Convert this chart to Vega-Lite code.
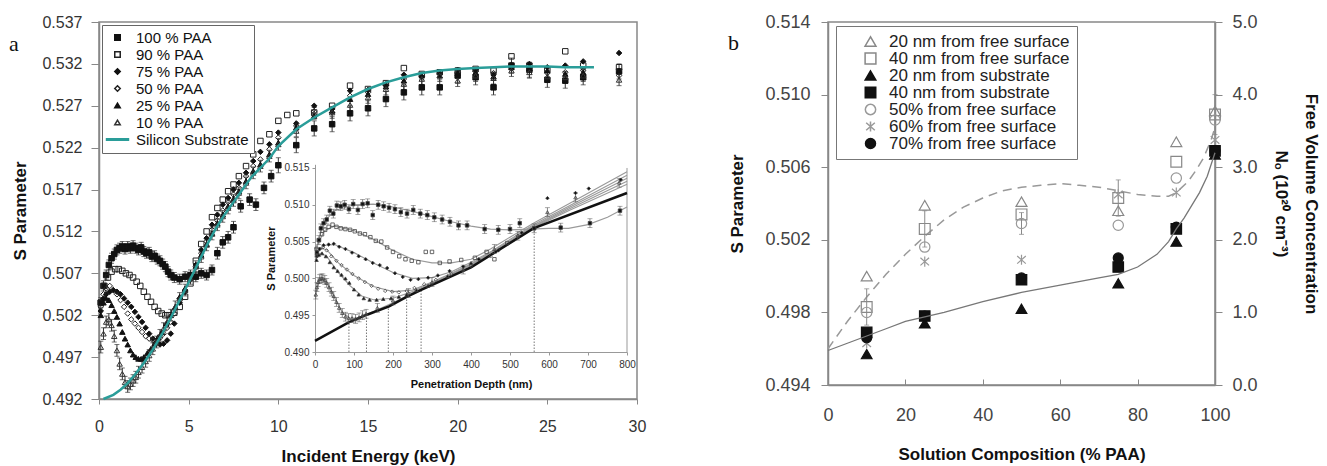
{
"$schema":"https://vega.github.io/schema/vega-lite/v6.json",
"padding":{"left":8,"top":12,"right":0,"bottom":0},
"spacing":80,
"resolve":{"scale":{"shape":"independent","fill":"independent","stroke":"independent","size":"independent"},"legend":{"shape":"independent","fill":"independent","stroke":"independent","size":"independent"}},
"config":{"view":{"stroke":"#888","strokeWidth":1.5},"font":"Liberation Sans",
"axis":{"grid":false,"domainColor":"#888","domainWidth":1.5,"tickColor":"#888","labelColor":"#333","labelFont":"Liberation Sans","titleFont":"Liberation Sans","titleFontWeight":"bold","titleColor":"#111","labelFlush":false,"labelOverlap":false},
"legend":{"labelFont":"Liberation Sans"}},
"datasets":{
"main":[
{"series":"100","E":0.1,"S":0.5035,"err":0.0006},{"series":"100","E":0.25,"S":0.5055,"err":0.0006},{"series":"100","E":0.4,"S":0.5068,"err":0.0006},{"series":"100","E":0.55,"S":0.508,"err":0.0006},{"series":"100","E":0.7,"S":0.5088,"err":0.0006},{"series":"100","E":0.85,"S":0.5093,"err":0.0006},{"series":"100","E":1.0,"S":0.5098,"err":0.0006},{"series":"100","E":1.15,"S":0.51,"err":0.0006},{"series":"100","E":1.3,"S":0.5102,"err":0.0006},{"series":"100","E":1.45,"S":0.5099,"err":0.0006},{"series":"100","E":1.6,"S":0.5102,"err":0.0006},{"series":"100","E":1.75,"S":0.51,"err":0.0006},{"series":"100","E":1.9,"S":0.5103,"err":0.0006},{"series":"100","E":2.05,"S":0.51,"err":0.0006},{"series":"100","E":2.2,"S":0.5098,"err":0.0006},{"series":"100","E":2.35,"S":0.5101,"err":0.0006},{"series":"100","E":2.5,"S":0.5096,"err":0.0006},{"series":"100","E":2.65,"S":0.5094,"err":0.0006},{"series":"100","E":2.8,"S":0.5095,"err":0.0006},{"series":"100","E":2.95,"S":0.509,"err":0.0006},{"series":"100","E":3.1,"S":0.5091,"err":0.0006},{"series":"100","E":3.25,"S":0.5087,"err":0.0006},{"series":"100","E":3.4,"S":0.5085,"err":0.0006},{"series":"100","E":3.55,"S":0.5081,"err":0.0006},{"series":"100","E":3.7,"S":0.5078,"err":0.0006},{"series":"100","E":3.85,"S":0.5072,"err":0.0006},{"series":"100","E":4.0,"S":0.5068,"err":0.0006},{"series":"100","E":4.2,"S":0.5065,"err":0.0006},{"series":"100","E":4.5,"S":0.5063,"err":0.0006},{"series":"100","E":4.8,"S":0.5066,"err":0.0006},{"series":"100","E":5.1,"S":0.5068,"err":0.0006},{"series":"100","E":5.4,"S":0.5066,"err":0.0006},{"series":"100","E":5.7,"S":0.507,"err":0.0006},{"series":"100","E":6.0,"S":0.5068,"err":0.0006},{"series":"100","E":6.3,"S":0.5074,"err":0.0006},{"series":"100","E":6.6,"S":0.5094,"err":0.0007},{"series":"100","E":6.9,"S":0.5107,"err":0.0007},{"series":"100","E":7.2,"S":0.5113,"err":0.0007},{"series":"100","E":7.5,"S":0.5125,"err":0.0007},{"series":"100","E":7.9,"S":0.515,"err":0.0007},{"series":"100","E":8.4,"S":0.5158,"err":0.0007},{"series":"100","E":8.75,"S":0.5152,"err":0.0007},{"series":"100","E":9.2,"S":0.5172,"err":0.0007},{"series":"100","E":9.6,"S":0.5186,"err":0.0007},{"series":"100","E":10,"S":0.5199,"err":0.0009},{"series":"100","E":11,"S":0.5223,"err":0.0009},{"series":"100","E":12,"S":0.5243,"err":0.0009},{"series":"100","E":13,"S":0.5248,"err":0.0009},{"series":"100","E":14,"S":0.5261,"err":0.0009},{"series":"100","E":15,"S":0.5267,"err":0.0009},{"series":"100","E":16,"S":0.5278,"err":0.0009},{"series":"100","E":17,"S":0.5286,"err":0.0009},{"series":"100","E":18,"S":0.5292,"err":0.0009},{"series":"100","E":19,"S":0.5292,"err":0.0009},{"series":"100","E":20,"S":0.5306,"err":0.0009},{"series":"100","E":21,"S":0.5304,"err":0.0009},{"series":"100","E":22,"S":0.5292,"err":0.0009},{"series":"100","E":23,"S":0.5318,"err":0.0009},{"series":"100","E":24,"S":0.5313,"err":0.0009},{"series":"100","E":25,"S":0.5301,"err":0.0009},{"series":"100","E":26,"S":0.53,"err":0.0009},{"series":"100","E":27,"S":0.5304,"err":0.0009},{"series":"100","E":29,"S":0.5311,"err":0.0009},
{"series":"90","E":0.1,"S":0.5035},{"series":"90","E":0.3,"S":0.5055},{"series":"90","E":0.5,"S":0.5065},{"series":"90","E":0.7,"S":0.5072},{"series":"90","E":0.9,"S":0.5075},{"series":"90","E":1.1,"S":0.5075},{"series":"90","E":1.3,"S":0.5073},{"series":"90","E":1.5,"S":0.507},{"series":"90","E":1.7,"S":0.5068},{"series":"90","E":1.9,"S":0.5065},{"series":"90","E":2.1,"S":0.506},{"series":"90","E":2.3,"S":0.5055},{"series":"90","E":2.5,"S":0.5048},{"series":"90","E":2.7,"S":0.5042},{"series":"90","E":2.9,"S":0.5036},{"series":"90","E":3.1,"S":0.503},{"series":"90","E":3.3,"S":0.5025},{"series":"90","E":3.5,"S":0.5022},{"series":"90","E":3.7,"S":0.502},{"series":"90","E":3.9,"S":0.502},{"series":"90","E":4.2,"S":0.5023},{"series":"90","E":4.5,"S":0.503},{"series":"90","E":4.8,"S":0.5042},{"series":"90","E":5.1,"S":0.5058},{"series":"90","E":5.4,"S":0.5085},{"series":"90","E":5.7,"S":0.5105},{"series":"90","E":6.0,"S":0.512},{"series":"90","E":6.3,"S":0.5137},{"series":"90","E":6.6,"S":0.5148},{"series":"90","E":6.9,"S":0.5158},{"series":"90","E":7.2,"S":0.5168},{"series":"90","E":7.5,"S":0.5176},{"series":"90","E":7.8,"S":0.5186},{"series":"90","E":8.2,"S":0.5198},{"series":"90","E":8.6,"S":0.5212},{"series":"90","E":9.0,"S":0.5228},{"series":"90","E":9.5,"S":0.5236},{"series":"90","E":10,"S":0.5252},{"series":"90","E":10.5,"S":0.5259},{"series":"90","E":11,"S":0.5261},{"series":"90","E":12,"S":0.5262},{"series":"90","E":13,"S":0.527},{"series":"90","E":14,"S":0.5294},{"series":"90","E":15,"S":0.529},{"series":"90","E":16,"S":0.5297},{"series":"90","E":17,"S":0.5315},{"series":"90","E":18,"S":0.5308},{"series":"90","E":19,"S":0.531},{"series":"90","E":20,"S":0.5312},{"series":"90","E":21,"S":0.5314},{"series":"90","E":22,"S":0.5312},{"series":"90","E":23,"S":0.5329},{"series":"90","E":24,"S":0.5318},{"series":"90","E":25,"S":0.5313},{"series":"90","E":26,"S":0.5335},{"series":"90","E":27,"S":0.5318},{"series":"90","E":29,"S":0.5316},
{"series":"75","E":0.1,"S":0.5025},{"series":"75","E":0.25,"S":0.504},{"series":"75","E":0.4,"S":0.5045},{"series":"75","E":0.6,"S":0.5048},{"series":"75","E":0.8,"S":0.505},{"series":"75","E":1.0,"S":0.5048},{"series":"75","E":1.2,"S":0.5045},{"series":"75","E":1.4,"S":0.504},{"series":"75","E":1.6,"S":0.5035},{"series":"75","E":1.8,"S":0.503},{"series":"75","E":2.0,"S":0.5024},{"series":"75","E":2.2,"S":0.5018},{"series":"75","E":2.4,"S":0.5012},{"series":"75","E":2.6,"S":0.5005},{"series":"75","E":2.8,"S":0.4998},{"series":"75","E":3.0,"S":0.4992},{"series":"75","E":3.2,"S":0.4988},{"series":"75","E":3.4,"S":0.4985},{"series":"75","E":3.6,"S":0.4986},{"series":"75","E":3.8,"S":0.499},{"series":"75","E":4.0,"S":0.4998},{"series":"75","E":4.2,"S":0.501},{"series":"75","E":4.5,"S":0.5035},{"series":"75","E":4.8,"S":0.5048},{"series":"75","E":5.1,"S":0.5065},{"series":"75","E":5.4,"S":0.508},{"series":"75","E":5.7,"S":0.5098},{"series":"75","E":6.0,"S":0.5112},{"series":"75","E":6.3,"S":0.5128},{"series":"75","E":6.6,"S":0.514},{"series":"75","E":6.9,"S":0.5152},{"series":"75","E":7.2,"S":0.516},{"series":"75","E":7.5,"S":0.517},{"series":"75","E":7.8,"S":0.5178},{"series":"75","E":8.2,"S":0.519},{"series":"75","E":8.6,"S":0.5204},{"series":"75","E":9.0,"S":0.5215},{"series":"75","E":9.5,"S":0.5224},{"series":"75","E":10,"S":0.5238},{"series":"75","E":11,"S":0.5249},{"series":"75","E":12,"S":0.527},{"series":"75","E":13,"S":0.5266},{"series":"75","E":14,"S":0.5288},{"series":"75","E":15,"S":0.5289},{"series":"75","E":16,"S":0.5294},{"series":"75","E":17,"S":0.5307},{"series":"75","E":18,"S":0.5305},{"series":"75","E":19,"S":0.5309},{"series":"75","E":20,"S":0.5313},{"series":"75","E":21,"S":0.5313},{"series":"75","E":22,"S":0.5307},{"series":"75","E":23,"S":0.5319},{"series":"75","E":24,"S":0.532},{"series":"75","E":25,"S":0.5316},{"series":"75","E":26,"S":0.5318},{"series":"75","E":27,"S":0.5323},{"series":"75","E":29,"S":0.5333},
{"series":"50","E":0.1,"S":0.503},{"series":"50","E":0.25,"S":0.5045},{"series":"50","E":0.4,"S":0.5052},{"series":"50","E":0.6,"S":0.5055},{"series":"50","E":0.8,"S":0.505},{"series":"50","E":1.0,"S":0.5045},{"series":"50","E":1.2,"S":0.5038},{"series":"50","E":1.4,"S":0.503},{"series":"50","E":1.6,"S":0.5022},{"series":"50","E":1.8,"S":0.5015},{"series":"50","E":2.0,"S":0.501},{"series":"50","E":2.2,"S":0.5005},{"series":"50","E":2.4,"S":0.5},{"series":"50","E":2.6,"S":0.4995},{"series":"50","E":2.8,"S":0.4992},{"series":"50","E":3.0,"S":0.499},{"series":"50","E":3.2,"S":0.499},{"series":"50","E":3.4,"S":0.4993},{"series":"50","E":3.6,"S":0.4998},{"series":"50","E":3.8,"S":0.5005},{"series":"50","E":4.0,"S":0.5012},{"series":"50","E":4.2,"S":0.5022},{"series":"50","E":4.5,"S":0.504},{"series":"50","E":4.8,"S":0.505},{"series":"50","E":5.1,"S":0.5062},{"series":"50","E":5.4,"S":0.5078},{"series":"50","E":5.7,"S":0.5094},{"series":"50","E":6.0,"S":0.5108},{"series":"50","E":6.3,"S":0.5122},{"series":"50","E":6.6,"S":0.5133},{"series":"50","E":6.9,"S":0.5145},{"series":"50","E":7.2,"S":0.5155},{"series":"50","E":7.5,"S":0.5164},{"series":"50","E":7.8,"S":0.5172},{"series":"50","E":8.2,"S":0.5186},{"series":"50","E":8.6,"S":0.5198},{"series":"50","E":9.0,"S":0.5206},{"series":"50","E":9.5,"S":0.5218},{"series":"50","E":10,"S":0.5232},{"series":"50","E":11,"S":0.5246},{"series":"50","E":12,"S":0.5263},{"series":"50","E":13,"S":0.5262},{"series":"50","E":14,"S":0.5282},{"series":"50","E":15,"S":0.5286},{"series":"50","E":16,"S":0.5296},{"series":"50","E":17,"S":0.5302},{"series":"50","E":18,"S":0.5305},{"series":"50","E":19,"S":0.5308},{"series":"50","E":20,"S":0.531},{"series":"50","E":21,"S":0.5311},{"series":"50","E":22,"S":0.5309},{"series":"50","E":23,"S":0.5314},{"series":"50","E":24,"S":0.5312},{"series":"50","E":25,"S":0.5309},{"series":"50","E":26,"S":0.531},{"series":"50","E":27,"S":0.5312},{"series":"50","E":29,"S":0.5306},
{"series":"25","E":0.1,"S":0.502},{"series":"25","E":0.25,"S":0.5035},{"series":"25","E":0.4,"S":0.504},{"series":"25","E":0.55,"S":0.5038},{"series":"25","E":0.7,"S":0.5032},{"series":"25","E":0.85,"S":0.5025},{"series":"25","E":1.0,"S":0.5018},{"series":"25","E":1.15,"S":0.501},{"series":"25","E":1.3,"S":0.5},{"series":"25","E":1.45,"S":0.4992},{"series":"25","E":1.6,"S":0.4985},{"series":"25","E":1.75,"S":0.4978},{"series":"25","E":1.9,"S":0.4973},{"series":"25","E":2.05,"S":0.497},{"series":"25","E":2.2,"S":0.4968},{"series":"25","E":2.35,"S":0.4968},{"series":"25","E":2.5,"S":0.497},{"series":"25","E":2.7,"S":0.4975},{"series":"25","E":2.9,"S":0.498},{"series":"25","E":3.1,"S":0.4986},{"series":"25","E":3.3,"S":0.4994},{"series":"25","E":3.5,"S":0.5},{"series":"25","E":3.75,"S":0.501},{"series":"25","E":4.0,"S":0.502},{"series":"25","E":4.25,"S":0.503},{"series":"25","E":4.5,"S":0.5042},{"series":"25","E":4.8,"S":0.5052},{"series":"25","E":5.1,"S":0.5066},{"series":"25","E":5.4,"S":0.5079},{"series":"25","E":5.7,"S":0.5092},{"series":"25","E":6.0,"S":0.5105},{"series":"25","E":6.3,"S":0.5118},{"series":"25","E":6.6,"S":0.513},{"series":"25","E":6.9,"S":0.514},{"series":"25","E":7.2,"S":0.515},{"series":"25","E":7.5,"S":0.5159},{"series":"25","E":7.8,"S":0.5168},{"series":"25","E":8.2,"S":0.518},{"series":"25","E":8.6,"S":0.5192},{"series":"25","E":9.0,"S":0.52},{"series":"25","E":9.5,"S":0.5212},{"series":"25","E":10,"S":0.5226},{"series":"25","E":11,"S":0.5244},{"series":"25","E":12,"S":0.5258},{"series":"25","E":13,"S":0.5264},{"series":"25","E":14,"S":0.5278},{"series":"25","E":15,"S":0.5284},{"series":"25","E":16,"S":0.5293},{"series":"25","E":17,"S":0.53},{"series":"25","E":18,"S":0.5306},{"series":"25","E":19,"S":0.5306},{"series":"25","E":20,"S":0.5309},{"series":"25","E":21,"S":0.531},{"series":"25","E":22,"S":0.5305},{"series":"25","E":23,"S":0.5316},{"series":"25","E":24,"S":0.5315},{"series":"25","E":25,"S":0.5312},{"series":"25","E":26,"S":0.5308},{"series":"25","E":27,"S":0.531},{"series":"25","E":29,"S":0.5312},
{"series":"10","E":0.1,"S":0.4982,"err":0.0007},{"series":"10","E":0.25,"S":0.4998,"err":0.0007},{"series":"10","E":0.4,"S":0.5012,"err":0.0007},{"series":"10","E":0.55,"S":0.5015,"err":0.0007},{"series":"10","E":0.7,"S":0.5008,"err":0.0007},{"series":"10","E":0.85,"S":0.4995,"err":0.0007},{"series":"10","E":1.0,"S":0.4978,"err":0.0007},{"series":"10","E":1.15,"S":0.4962,"err":0.0007},{"series":"10","E":1.3,"S":0.495,"err":0.0007},{"series":"10","E":1.45,"S":0.494,"err":0.0007},{"series":"10","E":1.6,"S":0.4935,"err":0.0007},{"series":"10","E":1.75,"S":0.4938,"err":0.0007},{"series":"10","E":1.9,"S":0.4942,"err":0.0007},{"series":"10","E":2.05,"S":0.4946,"err":0.0007},{"series":"10","E":2.2,"S":0.4952,"err":0.0007},{"series":"10","E":2.4,"S":0.4958,"err":0.0007},{"series":"10","E":2.6,"S":0.4965,"err":0.0007},{"series":"10","E":2.8,"S":0.4972,"err":0.0007},{"series":"10","E":3.0,"S":0.498,"err":0.0007},{"series":"10","E":3.2,"S":0.4988,"err":0.0007},{"series":"10","E":3.4,"S":0.4996,"err":0.0007},{"series":"10","E":3.6,"S":0.5004,"err":0.0007},{"series":"10","E":3.8,"S":0.5012,"err":0.0007},{"series":"10","E":4.0,"S":0.502,"err":0.0007},{"series":"10","E":4.25,"S":0.503,"err":0.0007},{"series":"10","E":4.5,"S":0.504,"err":0.0007},{"series":"10","E":4.8,"S":0.505,"err":0.0007},{"series":"10","E":5.1,"S":0.5064,"err":0.0007},{"series":"10","E":5.4,"S":0.5078,"err":0.0007},{"series":"10","E":5.7,"S":0.509,"err":0.0007},{"series":"10","E":6.0,"S":0.5104,"err":0.0007},{"series":"10","E":6.3,"S":0.5117,"err":0.0007},{"series":"10","E":6.6,"S":0.5128,"err":0.0007},{"series":"10","E":6.9,"S":0.5138,"err":0.0007},{"series":"10","E":7.2,"S":0.5148,"err":0.0007},{"series":"10","E":7.5,"S":0.5157,"err":0.0007},{"series":"10","E":7.8,"S":0.5166,"err":0.0007},{"series":"10","E":8.2,"S":0.5178,"err":0.0007},{"series":"10","E":8.6,"S":0.519,"err":0.0007},{"series":"10","E":9.0,"S":0.5198,"err":0.0007},{"series":"10","E":9.5,"S":0.521,"err":0.0007},{"series":"10","E":10,"S":0.5224,"err":0.0007},{"series":"10","E":11,"S":0.524,"err":0.0007},{"series":"10","E":12,"S":0.5261,"err":0.0007},{"series":"10","E":13,"S":0.5262,"err":0.0007},{"series":"10","E":14,"S":0.5271,"err":0.0007},{"series":"10","E":15,"S":0.528,"err":0.0007},{"series":"10","E":16,"S":0.529,"err":0.0007},{"series":"10","E":17,"S":0.5296,"err":0.0007},{"series":"10","E":18,"S":0.5302,"err":0.0007},{"series":"10","E":19,"S":0.5306,"err":0.0007},{"series":"10","E":20,"S":0.53,"err":0.0007},{"series":"10","E":21,"S":0.5306,"err":0.0007},{"series":"10","E":22,"S":0.5303,"err":0.0007},{"series":"10","E":23,"S":0.5312,"err":0.0007},{"series":"10","E":24,"S":0.531,"err":0.0007},{"series":"10","E":25,"S":0.5305,"err":0.0007},{"series":"10","E":26,"S":0.5304,"err":0.0007},{"series":"10","E":27,"S":0.5306,"err":0.0007},{"series":"10","E":29,"S":0.5301,"err":0.0007}
],
"sub":[
{"series":"Si","E":0.25,"S":0.492},{"series":"Si","E":0.8,"S":0.4925},{"series":"Si","E":1.2,"S":0.4931},{"series":"Si","E":1.6,"S":0.4939},{"series":"Si","E":2.0,"S":0.4949},{"series":"Si","E":2.5,"S":0.4963},{"series":"Si","E":3.0,"S":0.4979},{"series":"Si","E":3.5,"S":0.4997},{"series":"Si","E":4.0,"S":0.5017},{"series":"Si","E":4.5,"S":0.5038},{"series":"Si","E":5.0,"S":0.5059},{"series":"Si","E":5.5,"S":0.5081},{"series":"Si","E":6.0,"S":0.5103},{"series":"Si","E":6.5,"S":0.5123},{"series":"Si","E":7.0,"S":0.514},{"series":"Si","E":7.5,"S":0.5155},{"series":"Si","E":8.0,"S":0.517},{"series":"Si","E":8.5,"S":0.5185},{"series":"Si","E":9.0,"S":0.5196},{"series":"Si","E":9.5,"S":0.5207},{"series":"Si","E":10,"S":0.5222},{"series":"Si","E":11,"S":0.5242},{"series":"Si","E":12,"S":0.5256},{"series":"Si","E":13,"S":0.5268},{"series":"Si","E":14,"S":0.528},{"series":"Si","E":15,"S":0.529},{"series":"Si","E":16,"S":0.5298},{"series":"Si","E":17,"S":0.5304},{"series":"Si","E":18,"S":0.5309},{"series":"Si","E":19,"S":0.5312},{"series":"Si","E":20,"S":0.5314},{"series":"Si","E":21,"S":0.5315},{"series":"Si","E":22,"S":0.5316},{"series":"Si","E":23,"S":0.5317},{"series":"Si","E":24,"S":0.5317},{"series":"Si","E":25,"S":0.5317},{"series":"Si","E":26,"S":0.5316},{"series":"Si","E":27.6,"S":0.5316}
],
"inset":[
{"series":"100","d":5,"S":0.5035,"err":0.0006},{"series":"100","d":10,"S":0.5052,"err":0.0006},{"series":"100","d":15,"S":0.5068,"err":0.0006},{"series":"100","d":22,"S":0.5075,"err":0.0006},{"series":"100","d":30,"S":0.508,"err":0.0006},{"series":"100","d":38,"S":0.5092,"err":0.0006},{"series":"100","d":47,"S":0.5088,"err":0.0006},{"series":"100","d":56,"S":0.5099,"err":0.0006},{"series":"100","d":66,"S":0.5098,"err":0.0006},{"series":"100","d":76,"S":0.51,"err":0.0006},{"series":"100","d":87,"S":0.5094,"err":0.0006},{"series":"100","d":98,"S":0.5101,"err":0.0006},{"series":"100","d":110,"S":0.5093,"err":0.0006},{"series":"100","d":122,"S":0.5101,"err":0.0006},{"series":"100","d":135,"S":0.5102,"err":0.0006},{"series":"100","d":148,"S":0.5086,"err":0.0006},{"series":"100","d":162,"S":0.51,"err":0.0006},{"series":"100","d":176,"S":0.5098,"err":0.0006},{"series":"100","d":190,"S":0.5096,"err":0.0006},{"series":"100","d":205,"S":0.5094,"err":0.0006},{"series":"100","d":220,"S":0.509,"err":0.0006},{"series":"100","d":236,"S":0.5088,"err":0.0006},{"series":"100","d":252,"S":0.5093,"err":0.0006},{"series":"100","d":270,"S":0.5088,"err":0.0006},{"series":"100","d":288,"S":0.5086,"err":0.0006},{"series":"100","d":306,"S":0.5083,"err":0.0006},{"series":"100","d":326,"S":0.508,"err":0.0006},{"series":"100","d":346,"S":0.5077,"err":0.0006},{"series":"100","d":368,"S":0.5072,"err":0.0006},{"series":"100","d":390,"S":0.5072,"err":0.0006},{"series":"100","d":435,"S":0.5067,"err":0.0006},{"series":"100","d":470,"S":0.5066,"err":0.0006},{"series":"100","d":500,"S":0.5067,"err":0.0006},{"series":"100","d":525,"S":0.5075,"err":0.0006},{"series":"100","d":562,"S":0.5068,"err":0.0006},{"series":"100","d":630,"S":0.5069,"err":0.0006},{"series":"100","d":705,"S":0.5075,"err":0.0006},{"series":"100","d":782,"S":0.5092,"err":0.0006},
{"series":"90","d":4,"S":0.504},{"series":"90","d":10,"S":0.5052},{"series":"90","d":18,"S":0.506},{"series":"90","d":26,"S":0.5066},{"series":"90","d":35,"S":0.507},{"series":"90","d":45,"S":0.5073},{"series":"90","d":55,"S":0.507},{"series":"90","d":66,"S":0.5068},{"series":"90","d":78,"S":0.5067},{"series":"90","d":90,"S":0.5066},{"series":"90","d":102,"S":0.5064},{"series":"90","d":115,"S":0.5061},{"series":"90","d":128,"S":0.506},{"series":"90","d":142,"S":0.5056},{"series":"90","d":156,"S":0.5051},{"series":"90","d":170,"S":0.505},{"series":"90","d":185,"S":0.5042},{"series":"90","d":200,"S":0.5036},{"series":"90","d":216,"S":0.503},{"series":"90","d":232,"S":0.5026},{"series":"90","d":248,"S":0.5024},{"series":"90","d":265,"S":0.5022},{"series":"90","d":284,"S":0.5036},{"series":"90","d":300,"S":0.5036},{"series":"90","d":320,"S":0.5021},{"series":"90","d":345,"S":0.5023},{"series":"90","d":375,"S":0.5025},{"series":"90","d":410,"S":0.5028},{"series":"90","d":440,"S":0.5036},{"series":"90","d":460,"S":0.5026},{"series":"90","d":493,"S":0.5048},
{"series":"75","d":5,"S":0.503},{"series":"75","d":12,"S":0.504},{"series":"75","d":22,"S":0.5045},{"series":"75","d":35,"S":0.5046},{"series":"75","d":48,"S":0.5047},{"series":"75","d":62,"S":0.5043},{"series":"75","d":78,"S":0.504},{"series":"75","d":95,"S":0.5035},{"series":"75","d":112,"S":0.503},{"series":"75","d":130,"S":0.5026},{"series":"75","d":148,"S":0.5021},{"series":"75","d":166,"S":0.5018},{"series":"75","d":185,"S":0.5014},{"series":"75","d":205,"S":0.5007},{"series":"75","d":225,"S":0.5002},{"series":"75","d":245,"S":0.4998},{"series":"75","d":265,"S":0.4999},{"series":"75","d":290,"S":0.5001},{"series":"75","d":315,"S":0.5004},{"series":"75","d":345,"S":0.501},{"series":"75","d":380,"S":0.5016},{"series":"75","d":420,"S":0.5026},{"series":"75","d":470,"S":0.5038},{"series":"75","d":530,"S":0.5062},{"series":"75","d":596,"S":0.5109},{"series":"75","d":668,"S":0.5116},{"series":"75","d":702,"S":0.5122},{"series":"75","d":784,"S":0.5134},
{"series":"50","d":5,"S":0.5032},{"series":"50","d":12,"S":0.504},{"series":"50","d":20,"S":0.5042},{"series":"50","d":30,"S":0.5038},{"series":"50","d":42,"S":0.503},{"series":"50","d":55,"S":0.5024},{"series":"50","d":68,"S":0.5018},{"series":"50","d":82,"S":0.5012},{"series":"50","d":96,"S":0.5006},{"series":"50","d":112,"S":0.5},{"series":"50","d":128,"S":0.4995},{"series":"50","d":145,"S":0.499},{"series":"50","d":162,"S":0.4986},{"series":"50","d":180,"S":0.4983},{"series":"50","d":198,"S":0.4982},{"series":"50","d":215,"S":0.4981},{"series":"50","d":235,"S":0.4983},{"series":"50","d":255,"S":0.4987},{"series":"50","d":280,"S":0.4992},{"series":"50","d":310,"S":0.4998},{"series":"50","d":350,"S":0.5006},{"series":"50","d":400,"S":0.5017},{"series":"50","d":450,"S":0.503},{"series":"50","d":520,"S":0.5058},
{"series":"25","d":4,"S":0.5025},{"series":"25","d":10,"S":0.5032},{"series":"25","d":18,"S":0.5034},{"series":"25","d":28,"S":0.503},{"series":"25","d":38,"S":0.5022},{"series":"25","d":48,"S":0.5015},{"series":"25","d":58,"S":0.501},{"series":"25","d":68,"S":0.5005},{"series":"25","d":78,"S":0.5},{"series":"25","d":88,"S":0.4994},{"series":"25","d":100,"S":0.4985},{"series":"25","d":112,"S":0.4978},{"series":"25","d":125,"S":0.4973},{"series":"25","d":140,"S":0.4971},{"series":"25","d":158,"S":0.4971},{"series":"25","d":175,"S":0.4972},{"series":"25","d":195,"S":0.4973},{"series":"25","d":215,"S":0.4975},{"series":"25","d":235,"S":0.4978},{"series":"25","d":260,"S":0.4984},{"series":"25","d":290,"S":0.499},{"series":"25","d":340,"S":0.5003},{"series":"25","d":400,"S":0.5021},
{"series":"10","d":2,"S":0.4978,"err":0.0006},{"series":"10","d":5,"S":0.4988,"err":0.0006},{"series":"10","d":8,"S":0.4995,"err":0.0006},{"series":"10","d":12,"S":0.4999,"err":0.0006},{"series":"10","d":16,"S":0.5,"err":0.0006},{"series":"10","d":20,"S":0.5,"err":0.0006},{"series":"10","d":25,"S":0.4998,"err":0.0006},{"series":"10","d":30,"S":0.4994,"err":0.0006},{"series":"10","d":36,"S":0.4988,"err":0.0006},{"series":"10","d":42,"S":0.4982,"err":0.0006},{"series":"10","d":48,"S":0.4976,"err":0.0006},{"series":"10","d":55,"S":0.4968,"err":0.0006},{"series":"10","d":62,"S":0.496,"err":0.0006},{"series":"10","d":70,"S":0.4953,"err":0.0006},{"series":"10","d":78,"S":0.4948,"err":0.0006},{"series":"10","d":86,"S":0.4946,"err":0.0006},{"series":"10","d":95,"S":0.4946,"err":0.0006},{"series":"10","d":104,"S":0.4945,"err":0.0006},{"series":"10","d":113,"S":0.4947,"err":0.0006},{"series":"10","d":122,"S":0.495,"err":0.0006},{"series":"10","d":131,"S":0.4952,"err":0.0006},{"series":"10","d":160,"S":0.496,"err":0.0006},{"series":"10","d":200,"S":0.497,"err":0.0006},{"series":"10","d":240,"S":0.498,"err":0.0006},{"series":"10","d":300,"S":0.4995,"err":0.0006},{"series":"10","d":380,"S":0.5012,"err":0.0006},{"series":"10","d":460,"S":0.504,"err":0.0006},{"series":"10","d":520,"S":0.5058,"err":0.0006},{"series":"10","d":596,"S":0.509,"err":0.0006},{"series":"10","d":668,"S":0.511,"err":0.0006},{"series":"10","d":780,"S":0.513,"err":0.0006}
],
"fits":[
{"series":"100","d":0,"S":0.503},{"series":"100","d":20,"S":0.5075},{"series":"100","d":50,"S":0.5092},{"series":"100","d":100,"S":0.51},{"series":"100","d":150,"S":0.5101},{"series":"100","d":200,"S":0.5097},{"series":"100","d":250,"S":0.5091},{"series":"100","d":300,"S":0.5084},{"series":"100","d":350,"S":0.5077},{"series":"100","d":400,"S":0.5071},{"series":"100","d":450,"S":0.5067},{"series":"100","d":500,"S":0.5066},{"series":"100","d":550,"S":0.5067},{"series":"100","d":600,"S":0.5068},{"series":"100","d":650,"S":0.5068},{"series":"100","d":700,"S":0.5073},{"series":"100","d":750,"S":0.5083},{"series":"100","d":800,"S":0.5097},
{"series":"90","d":0,"S":0.504},{"series":"90","d":25,"S":0.5065},{"series":"90","d":50,"S":0.5071},{"series":"90","d":100,"S":0.5065},{"series":"90","d":150,"S":0.5053},{"series":"90","d":200,"S":0.5038},{"series":"90","d":250,"S":0.5026},{"series":"90","d":300,"S":0.5021},{"series":"90","d":350,"S":0.5021},{"series":"90","d":400,"S":0.5026},{"series":"90","d":450,"S":0.504},{"series":"90","d":500,"S":0.5056},{"series":"90","d":560,"S":0.5075},{"series":"90","d":650,"S":0.5101},{"series":"90","d":800,"S":0.5145},
{"series":"75","d":0,"S":0.5032},{"series":"75","d":25,"S":0.5045},{"series":"75","d":50,"S":0.5046},{"series":"75","d":100,"S":0.5035},{"series":"75","d":150,"S":0.5021},{"series":"75","d":200,"S":0.5008},{"series":"75","d":250,"S":0.5},{"series":"75","d":300,"S":0.5001},{"series":"75","d":350,"S":0.5009},{"series":"75","d":400,"S":0.5022},{"series":"75","d":450,"S":0.5036},{"series":"75","d":500,"S":0.5053},{"series":"75","d":560,"S":0.5073},{"series":"75","d":650,"S":0.5098},{"series":"75","d":800,"S":0.514},
{"series":"50","d":0,"S":0.5034},{"series":"50","d":15,"S":0.5041},{"series":"50","d":30,"S":0.5039},{"series":"50","d":60,"S":0.5021},{"series":"50","d":100,"S":0.5004},{"series":"50","d":150,"S":0.4989},{"series":"50","d":200,"S":0.4982},{"series":"50","d":250,"S":0.4984},{"series":"50","d":300,"S":0.4995},{"series":"50","d":350,"S":0.5007},{"series":"50","d":400,"S":0.502},{"series":"50","d":450,"S":0.5035},{"series":"50","d":500,"S":0.5051},{"series":"50","d":560,"S":0.5071},{"series":"50","d":650,"S":0.5096},{"series":"50","d":800,"S":0.5136},
{"series":"25","d":0,"S":0.5025},{"series":"25","d":15,"S":0.5034},{"series":"25","d":30,"S":0.503},{"series":"25","d":60,"S":0.5008},{"series":"25","d":90,"S":0.499},{"series":"25","d":120,"S":0.4976},{"series":"25","d":150,"S":0.4971},{"series":"25","d":200,"S":0.4973},{"series":"25","d":250,"S":0.4982},{"series":"25","d":300,"S":0.4994},{"series":"25","d":350,"S":0.5006},{"series":"25","d":400,"S":0.5019},{"series":"25","d":450,"S":0.5034},{"series":"25","d":500,"S":0.505},{"series":"25","d":560,"S":0.507},{"series":"25","d":650,"S":0.5094},{"series":"25","d":800,"S":0.5132},
{"series":"10","d":0,"S":0.4975},{"series":"10","d":10,"S":0.4996},{"series":"10","d":20,"S":0.5},{"series":"10","d":35,"S":0.499},{"series":"10","d":50,"S":0.4974},{"series":"10","d":70,"S":0.4954},{"series":"10","d":90,"S":0.4946},{"series":"10","d":110,"S":0.4946},{"series":"10","d":150,"S":0.4955},{"series":"10","d":200,"S":0.4967},{"series":"10","d":250,"S":0.498},{"series":"10","d":300,"S":0.4993},{"series":"10","d":350,"S":0.5005},{"series":"10","d":400,"S":0.5018},{"series":"10","d":450,"S":0.5033},{"series":"10","d":500,"S":0.5049},{"series":"10","d":560,"S":0.5069},{"series":"10","d":650,"S":0.5092},{"series":"10","d":800,"S":0.5128},
{"series":"Si","d":0,"S":0.4915},{"series":"Si","d":85,"S":0.494},{"series":"Si","d":135,"S":0.4951},{"series":"Si","d":190,"S":0.4962},{"series":"Si","d":235,"S":0.4975},{"series":"Si","d":275,"S":0.4985},{"series":"Si","d":400,"S":0.5015},{"series":"Si","d":560,"S":0.5068},{"series":"Si","d":800,"S":0.5116}
],
"depths":[{"d":87,"lo":0.49,"S":0.494},{"d":132,"lo":0.49,"S":0.4951},{"d":188,"lo":0.49,"S":0.4962},{"d":235,"lo":0.49,"S":0.4975},{"d":272,"lo":0.49,"S":0.4984},{"d":562,"lo":0.49,"S":0.5068}],
"b":[
{"series":"20 nm from free surface","comp":10,"S":0.5},{"series":"40 nm from free surface","comp":10,"S":0.4983,"err":0.001},{"series":"20 nm from substrate","comp":10,"S":0.4957},{"series":"40 nm from substrate","comp":10,"S":0.4969},{"series":"50% from free surface","comp":10,"S":0.498},{"series":"60% from free surface","comp":10,"S":0.4963},{"series":"70% from free surface","comp":10,"S":0.4966},
{"series":"20 nm from free surface","comp":25,"S":0.5039},{"series":"40 nm from free surface","comp":25,"S":0.5026,"err":0.001},{"series":"20 nm from substrate","comp":25,"S":0.4974},{"series":"40 nm from substrate","comp":25,"S":0.4978},{"series":"50% from free surface","comp":25,"S":0.5016},{"series":"60% from free surface","comp":25,"S":0.5008},{"series":"70% from free surface","comp":25,"S":0.4978},
{"series":"20 nm from free surface","comp":50,"S":0.5041},{"series":"40 nm from free surface","comp":50,"S":0.5034},{"series":"20 nm from substrate","comp":50,"S":0.4982},{"series":"40 nm from substrate","comp":50,"S":0.4998},{"series":"50% from free surface","comp":50,"S":0.5029,"err":0.0006},{"series":"60% from free surface","comp":50,"S":0.5009},{"series":"70% from free surface","comp":50,"S":0.4999},
{"series":"20 nm from free surface","comp":75,"S":0.5036},{"series":"40 nm from free surface","comp":75,"S":0.5043,"err":0.001},{"series":"20 nm from substrate","comp":75,"S":0.4996},{"series":"40 nm from substrate","comp":75,"S":0.5005},{"series":"50% from free surface","comp":75,"S":0.5028},{"series":"60% from free surface","comp":75,"S":0.5045},{"series":"70% from free surface","comp":75,"S":0.501},
{"series":"20 nm from free surface","comp":90,"S":0.5074},{"series":"40 nm from free surface","comp":90,"S":0.5063},{"series":"20 nm from substrate","comp":90,"S":0.5019},{"series":"40 nm from substrate","comp":90,"S":0.5026},{"series":"50% from free surface","comp":90,"S":0.5054},{"series":"60% from free surface","comp":90,"S":0.5046},{"series":"70% from free surface","comp":90,"S":0.5027},
{"series":"20 nm from free surface","comp":100,"S":0.5091},{"series":"40 nm from free surface","comp":100,"S":0.5089,"err":0.0011},{"series":"20 nm from substrate","comp":100,"S":0.5067},{"series":"40 nm from substrate","comp":100,"S":0.5069},{"series":"50% from free surface","comp":100,"S":0.5086},{"series":"60% from free surface","comp":100,"S":0.5075},{"series":"70% from free surface","comp":100,"S":0.5069}
],
"bfit":[
{"fit":"free","comp":0,"S":0.496},{"fit":"free","comp":5,"S":0.4975},{"fit":"free","comp":10,"S":0.49885},{"fit":"free","comp":15,"S":0.5001},{"fit":"free","comp":20,"S":0.5012},{"fit":"free","comp":25,"S":0.5022},{"fit":"free","comp":30,"S":0.5031},{"fit":"free","comp":35,"S":0.5038},{"fit":"free","comp":40,"S":0.5043},{"fit":"free","comp":45,"S":0.5047},{"fit":"free","comp":50,"S":0.5049},{"fit":"free","comp":55,"S":0.505},{"fit":"free","comp":60,"S":0.5051},{"fit":"free","comp":65,"S":0.505},{"fit":"free","comp":70,"S":0.5049},{"fit":"free","comp":75,"S":0.5047},{"fit":"free","comp":80,"S":0.5045},{"fit":"free","comp":85,"S":0.5044},{"fit":"free","comp":88,"S":0.5044},{"fit":"free","comp":90,"S":0.5046},{"fit":"free","comp":93,"S":0.5052},{"fit":"free","comp":95,"S":0.5058},{"fit":"free","comp":97,"S":0.5065},{"fit":"free","comp":99,"S":0.5075},{"fit":"free","comp":100,"S":0.5082},
{"fit":"substrate","comp":0,"S":0.4959},{"fit":"substrate","comp":5,"S":0.4963},{"fit":"substrate","comp":10,"S":0.4967},{"fit":"substrate","comp":15,"S":0.4971},{"fit":"substrate","comp":20,"S":0.4975},{"fit":"substrate","comp":25,"S":0.49775},{"fit":"substrate","comp":30,"S":0.498},{"fit":"substrate","comp":40,"S":0.4986},{"fit":"substrate","comp":50,"S":0.4991},{"fit":"substrate","comp":60,"S":0.4995},{"fit":"substrate","comp":70,"S":0.4999},{"fit":"substrate","comp":75,"S":0.5001},{"fit":"substrate","comp":80,"S":0.5005},{"fit":"substrate","comp":85,"S":0.5012},{"fit":"substrate","comp":88,"S":0.5019},{"fit":"substrate","comp":90,"S":0.5026},{"fit":"substrate","comp":92,"S":0.5032},{"fit":"substrate","comp":94,"S":0.5039},{"fit":"substrate","comp":96,"S":0.5046},{"fit":"substrate","comp":98,"S":0.5055},{"fit":"substrate","comp":100,"S":0.5068}
]
},
"hconcat":[
{
"width":538,"height":377,
"title":{"text":"a","anchor":"start","frame":"group","dx":-90,"dy":42,"fontSize":22,"font":"Liberation Serif","fontWeight":"normal","offset":0,"color":"#111"},
"layer":[
{"layer":[
{"data":{"name":"main"},"transform":[{"filter":"isValid(datum.err)"}],
"mark":{"type":"errorbar","ticks":true,"thickness":1,"color":"#333"},
"encoding":{"x":{"field":"E","type":"quantitative","title":"Incident Energy (keV)"},"y":{"field":"S","type":"quantitative","title":"S Parameter"},"yError":{"field":"err"}}},
{"data":{"name":"main"},"mark":{"type":"point","strokeWidth":1,"opacity":1},
"encoding":{
"x":{"field":"E","type":"quantitative","title":"Incident Energy (keV)","scale":{"domain":[0,30],"nice":false,"zero":false},"axis":{"values":[0,5,10,15,20,25,30],"tickSize":5,"labelPadding":14,"labelFontSize":16,"titleFontSize":17,"titlePadding":14}},
"y":{"field":"S","type":"quantitative","title":"S Parameter","scale":{"domain":[0.492,0.537],"nice":false,"zero":false},"axis":{"values":[0.492,0.497,0.502,0.507,0.512,0.517,0.522,0.527,0.532,0.537],"format":".3f","tickSize":8,"labelPadding":9,"labelFontSize":16,"titleFontSize":17,"titlePadding":12}},
"shape":{"field":"series","type":"nominal","scale":{"domain":["100","90","75","50","25","10","Si"],"range":["square","square","diamond","diamond","triangle-up","triangle-up","M-4,-0.3L4,-0.3L4,0.3L-4,0.3Z"]},"legend":{"title":null,"orient":"none","legendX":3,"legendY":3,"padding":5,"strokeColor":"#666","fillColor":"white","labelFontSize":15,"labelColor":"#111","rowPadding":1,"labelOffset":11,"symbolOffset":3,"labelLimit":300,"labelExpr":"datum.value == 'Si' ? 'Silicon Substrate' : (length(datum.value) < 3 ? '\u2007' : '') + datum.value + ' % PAA'"}},
"fill":{"field":"series","type":"nominal","scale":{"domain":["100","90","75","50","25","10","Si"],"range":["#111","transparent","#111","transparent","#111","transparent","#2a9d99"]}},
"stroke":{"field":"series","type":"nominal","scale":{"domain":["100","90","75","50","25","10","Si"],"range":["#111","#222","#111","#222","#111","#333","#2a9d99"]}},
"size":{"field":"series","type":"nominal","scale":{"domain":["100","90","75","50","25","10","Si"],"range":[30,30,20,22,24,24,30]}}
}},
{"data":{"name":"sub"},"mark":{"type":"line","strokeWidth":2.5},
"encoding":{"x":{"field":"E","type":"quantitative","title":"Incident Energy (keV)"},"y":{"field":"S","type":"quantitative","title":"S Parameter"},
"stroke":{"field":"series","type":"nominal","scale":{"domain":["100","90","75","50","25","10","Si"],"range":["#111","#222","#111","#222","#111","#333","#2a9d99"]}}}}
]},
{"layer":[
{"data":{"name":"depths"},"mark":{"type":"rule","strokeDash":[1.5,1.5],"stroke":"#777","strokeWidth":1},
"encoding":{
"x":{"field":"d","type":"quantitative","title":"Penetration Depth (nm)","scale":{"domain":[0,800],"range":[216,528],"nice":false,"zero":false},"axis":{"orient":"bottom","offset":-47,"values":[0,100,200,300,400,500,600,700,800],"labelOverlap":false,"labelBound":false,"labelFontSize":10,"tickSize":3,"labelPadding":4,"titleFontSize":11,"titlePadding":9,"domainColor":"#999","tickColor":"#999","domainWidth":1}},
"y":{"field":"lo","type":"quantitative","title":"S Parameter","scale":{"domain":[0.49,0.5155],"range":[330,142.3],"nice":false,"zero":false},"axis":{"orient":"left","offset":-216,"values":[0.49,0.495,0.5,0.505,0.51,0.515],"format":".3f","labelOverlap":false,"labelFontSize":10,"tickSize":3,"labelPadding":3,"titleFontSize":11,"titlePadding":7,"domainColor":"#999","tickColor":"#999","domainWidth":1}},
"y2":{"field":"S"}}},
{"data":{"values":[{"d":800,"lo":0.49,"hi":0.515}]},"mark":{"type":"rule","stroke":"#999","strokeWidth":1},
"encoding":{"x":{"field":"d","type":"quantitative","title":"Penetration Depth (nm)"},"y":{"field":"lo","type":"quantitative","title":"S Parameter"},"y2":{"field":"hi"}}},
{"data":{"name":"fits"},"transform":[{"filter":"datum.series != 'Si'"}],"mark":{"type":"line","stroke":"#9a9a9a","strokeWidth":1.2},
"encoding":{"x":{"field":"d","type":"quantitative","title":"Penetration Depth (nm)"},"y":{"field":"S","type":"quantitative","title":"S Parameter"},"detail":{"field":"series"}}},
{"data":{"name":"fits"},"transform":[{"filter":"datum.series == 'Si'"}],"mark":{"type":"line","stroke":"#111","strokeWidth":2.5},
"encoding":{"x":{"field":"d","type":"quantitative","title":"Penetration Depth (nm)"},"y":{"field":"S","type":"quantitative","title":"S Parameter"}}},
{"data":{"name":"inset"},"transform":[{"filter":"isValid(datum.err)"}],"mark":{"type":"errorbar","ticks":true,"thickness":0.7,"color":"#555"},
"encoding":{"x":{"field":"d","type":"quantitative","title":"Penetration Depth (nm)"},"y":{"field":"S","type":"quantitative","title":"S Parameter"},"yError":{"field":"err"}}},
{"data":{"name":"inset"},"mark":{"type":"point","strokeWidth":0.8,"size":12,"stroke":"#444","opacity":1},
"encoding":{"x":{"field":"d","type":"quantitative","title":"Penetration Depth (nm)"},"y":{"field":"S","type":"quantitative","title":"S Parameter"},
"shape":{"field":"series","type":"nominal","scale":{"domain":["100","90","75","50","25","10","Si"],"range":["square","square","diamond","diamond","triangle-up","triangle-up","M-4,-0.3L4,-0.3L4,0.3L-4,0.3Z"]}},
"fill":{"field":"series","type":"nominal","scale":{"domain":["100","90","75","50","25","10","Si"],"range":["#111","transparent","#111","transparent","#111","transparent","#2a9d99"]}}}}
]}
],
"resolve":{"scale":{"x":"independent","y":"independent"}}
},
{
"width":387,"height":363,
"title":{"text":"b","anchor":"start","frame":"group","dx":-100,"dy":42,"fontSize":22,"font":"Liberation Serif","fontWeight":"normal","offset":0,"color":"#111"},
"layer":[
{"layer":[
{"data":{"name":"bfit"},"transform":[{"filter":"datum.fit == 'free'"}],"mark":{"type":"line","stroke":"#999","strokeWidth":1.5,"strokeDash":[9,6]},
"encoding":{"x":{"field":"comp","type":"quantitative","title":"Solution Composition (% PAA)","scale":{"domain":[0,100],"nice":false,"zero":false},"axis":{"values":[0,20,40,60,80,100],"tickSize":-6,"labelPadding":27,"labelFontSize":18,"labelColor":"#444","titleFontSize":17,"titlePadding":22}},
"y":{"field":"S","type":"quantitative","title":"S Parameter","scale":{"domain":[0.494,0.514],"nice":false,"zero":false},"axis":{"values":[0.494,0.498,0.502,0.506,0.51,0.514],"format":".3f","tickSize":7,"labelPadding":11,"labelFontSize":18,"labelColor":"#444","titleFontSize":17,"titlePadding":18}}}},
{"data":{"name":"b"},"transform":[{"filter":"isValid(datum.err)"}],"mark":{"type":"errorbar","ticks":true,"thickness":1,"color":"#888"},
"encoding":{"x":{"field":"comp","type":"quantitative","title":"Solution Composition (% PAA)"},"y":{"field":"S","type":"quantitative","title":"S Parameter"},"yError":{"field":"err"}}},
{"data":{"name":"b"},"mark":{"type":"point","strokeWidth":1.2,"opacity":1},
"encoding":{"x":{"field":"comp","type":"quantitative","title":"Solution Composition (% PAA)"},"y":{"field":"S","type":"quantitative","title":"S Parameter"},
"shape":{"field":"series","type":"nominal","scale":{"domain":["20 nm from free surface","40 nm from free surface","20 nm from substrate","40 nm from substrate","50% from free surface","60% from free surface","70% from free surface"],"range":["triangle-up","square","triangle-up","square","circle","M0,-1L0,1M-0.85,-0.75L0.85,0.75M-0.85,0.75L0.85,-0.75","circle"]},"legend":{"title":null,"orient":"none","legendX":8,"legendY":4,"padding":7,"strokeColor":"#777","fillColor":"white","labelFontSize":17,"labelColor":"#222","rowPadding":-1,"labelOffset":10,"symbolOffset":19,"labelLimit":400}},
"fill":{"field":"series","type":"nominal","scale":{"domain":["20 nm from free surface","40 nm from free surface","20 nm from substrate","40 nm from substrate","50% from free surface","60% from free surface","70% from free surface"],"range":["transparent","transparent","#111","#111","transparent","transparent","#111"]}},
"stroke":{"field":"series","type":"nominal","scale":{"domain":["20 nm from free surface","40 nm from free surface","20 nm from substrate","40 nm from substrate","50% from free surface","60% from free surface","70% from free surface"],"range":["#888","#888","#111","#111","#999","#999","#111"]}},
"size":{"field":"series","type":"nominal","scale":{"domain":["20 nm from free surface","40 nm from free surface","20 nm from substrate","40 nm from substrate","50% from free surface","60% from free surface","70% from free surface"],"range":[120,100,45,45,80,90,70]}}
}}
]},
{"layer":[
{"data":{"name":"bfit"},"transform":[{"filter":"datum.fit == 'substrate'"}],"mark":{"type":"line","stroke":"#777","strokeWidth":1.3},
"encoding":{"x":{"field":"comp","type":"quantitative","title":"Solution Composition (% PAA)"},
"y":{"field":"S","type":"quantitative","title":["Free Volume Concentration","N\u2092 (10\u00b2\u2070 cm\u207b\u00b3)"],"axis":{"orient":"right","values":[0.494,0.498,0.502,0.506,0.51,0.514],"labelExpr":"format((datum.value - 0.494) / 0.004, '.1f')","tickSize":7,"labelPadding":10,"labelFontSize":18,"labelColor":"#444","titleFontSize":17,"titlePadding":14,"titleLineHeight":30}}}}
]}
],
"resolve":{"axis":{"y":"independent"}}
}
]
}
